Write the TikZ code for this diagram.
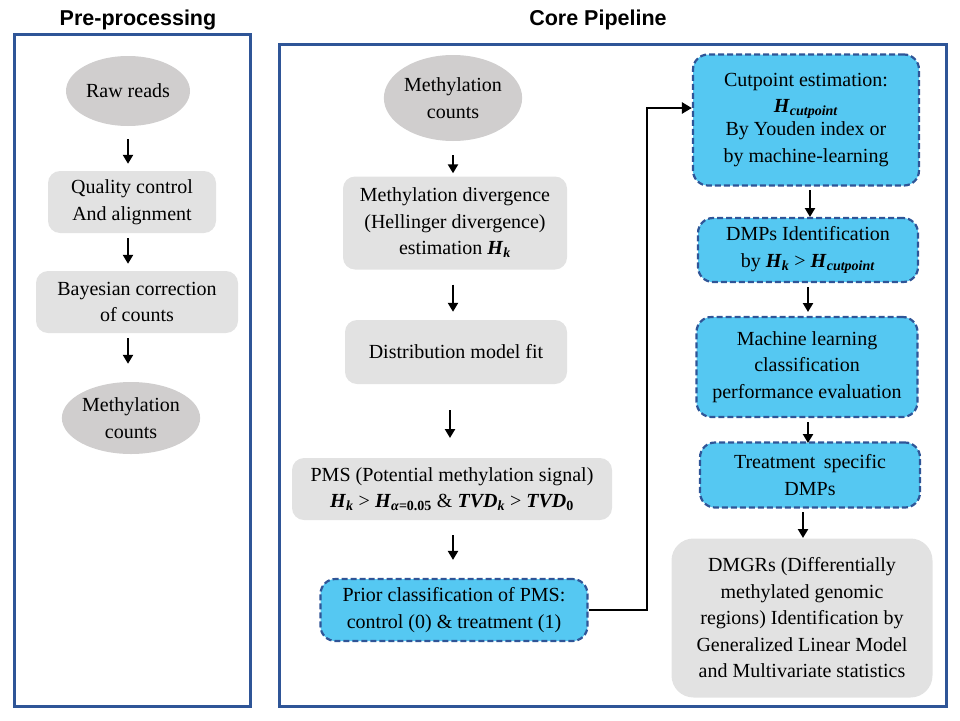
\documentclass[tikz,border=0pt]{standalone}
\usepackage{fontspec}
\setmainfont{Liberation Serif}
\newfontfamily\titlefont{Liberation Sans}
\usetikzlibrary{shapes.geometric,arrows.meta}
\newcommand{\bi}[1]{\textbf{\textit{#1}}}
\newcommand{\bsub}[2]{\bi{#1}\textsubscript{\bi{#2}}}
\definecolor{frameblue}{HTML}{2F5597}
\definecolor{ellgray}{HTML}{D0CECE}
\definecolor{boxgray}{HTML}{E2E2E2}
\definecolor{cyanfill}{HTML}{55C8F2}
\definecolor{dashblue}{HTML}{2F5597}
\tikzset{
  frame/.style={draw=frameblue, line width=3pt},
  ttl/.style={font=\titlefont\bfseries\fontsize{21.5}{26}\selectfont},
  txt/.style={font=\fontsize{20}{26.5}\selectfont, align=center, inner sep=0pt},
  ell/.style={txt, ellipse, fill=ellgray},
  gbox/.style={txt, rectangle, rounded corners=12pt, fill=boxgray},
  cbox/.style={txt, rectangle, rounded corners=15pt, fill=cyanfill, draw=dashblue, line width=2.2pt, dash pattern=on 6pt off 3pt},
  arr/.style={-{Triangle[length=9pt,width=10pt]}, line width=2.4pt, black},
  conn/.style={-{Triangle[length=10pt,width=11pt]}, line width=2.8pt, black},
}
\begin{document}
\begin{tikzpicture}[x=1pt,y=-1pt]
\useasboundingbox (0,0) rectangle (960,720);
% titles
\node[ttl] (t1) at (138,20) {Pre-processing};
\node[ttl] (t2) at (598,20) {Core Pipeline};
% frames
\draw[frame] (14,34) rectangle (250,706);
\draw[frame] (279,44) rectangle (946,706);
% left column
\node[ell, minimum width=124pt, minimum height=70pt] (raw) at (128,91) {Raw reads};
\node[gbox, minimum width=168pt, minimum height=62pt] (qc) at (132,202) {Quality control\\And alignment};
\node[gbox, minimum width=202pt, minimum height=62pt] (bay) at (137,302) {Bayesian correction\\of counts};
\node[ell, minimum width=124pt, minimum height=72pt] (mc1) at (131,418) {Methylation\\counts};
\draw[arr, shorten <=13pt, shorten >=7pt] (raw.south) -- (raw.south |- qc.north);
\draw[arr, shorten <=5pt, shorten >=7pt] (raw.south |- qc.south) -- (raw.south |- bay.north);
\draw[arr, shorten <=5pt, shorten >=18pt] (raw.south |- bay.south) -- (raw.south |- mc1.north);
% middle column
\node[ell, minimum width=130pt, minimum height=86pt] (mc2) at (453,98) {Methylation\\counts};
\node[gbox, minimum width=224pt, minimum height=93pt] (div) at (455,223) {Methylation divergence\\(Hellinger divergence)\\estimation \bsub{H}{k}};
\node[gbox, minimum width=222pt, minimum height=64pt] (dist) at (456,352) {Distribution model fit};
\node[gbox, minimum width=320pt, minimum height=62pt] (pms) at (452,489) {PMS (Potential methylation signal)\\\bsub{H}{k} > \bi{H}\textsubscript{\bi{α}\textbf{=0.05}} \& \bsub{TVD}{k} > \bi{TVD}\textsubscript{\textbf{0}}};
\node[cbox, minimum width=267pt, minimum height=62pt] (prior) at (454,610) {Prior classification of PMS:\\control (0) \& treatment (1)};
\draw[arr, shorten <=14pt, shorten >=3pt] (mc2.south) -- (mc2.south |- div.north);
\draw[arr, shorten <=15pt, shorten >=8pt] (mc2.south |- div.south) -- (mc2.south |- dist.north);
\draw[arr, shorten <=26pt, shorten >=20pt] (450,384) -- (450,458);
\draw[arr, shorten <=15pt, shorten >=18pt] (mc2.south |- pms.south) -- (mc2.south |- prior.north);
% right column
\node[cbox, minimum width=226pt, minimum height=131pt] (cut) at (806,120) {Cutpoint estimation:\\[-1pt]\bsub{H}{cutpoint}\\[-3pt]By Youden index or\\by machine-learning};
\node[cbox, minimum width=220pt, minimum height=64pt] (dmp) at (808,250) {DMPs Identification\\by \bsub{H}{k} > \bsub{H}{cutpoint}};
\node[cbox, minimum width=221pt, minimum height=100pt] (ml) at (807,367) {Machine learning\\classification\\performance evaluation};
\node[cbox, minimum width=220pt, minimum height=65pt] (trt) at (810,475) {Treatment\, specific\\DMPs};
\node[gbox, minimum width=261pt, minimum height=159pt, rounded corners=22pt] (dmgr) at (802,618) {DMGRs (Differentially\\methylated genomic\\regions) Identification by\\Generalized Linear Model\\and Multivariate statistics};
\draw[arr, shorten <=4pt, shorten >=1pt] (810,186) -- (810,218);
\draw[arr, shorten <=5pt, shorten >=5pt] (808,282) -- (808,317);
\draw[arr, shorten <=5pt, shorten >=0pt] (808,417) -- (808,443);
\draw[arr, shorten <=4pt, shorten >=1pt] (803,508) -- (803,539);
% connector
\coordinate (bend) at (647,108);
\draw[conn, line join=miter] (prior.east) -| (bend) -- (cut.west |- bend);
\end{tikzpicture}
\end{document}
